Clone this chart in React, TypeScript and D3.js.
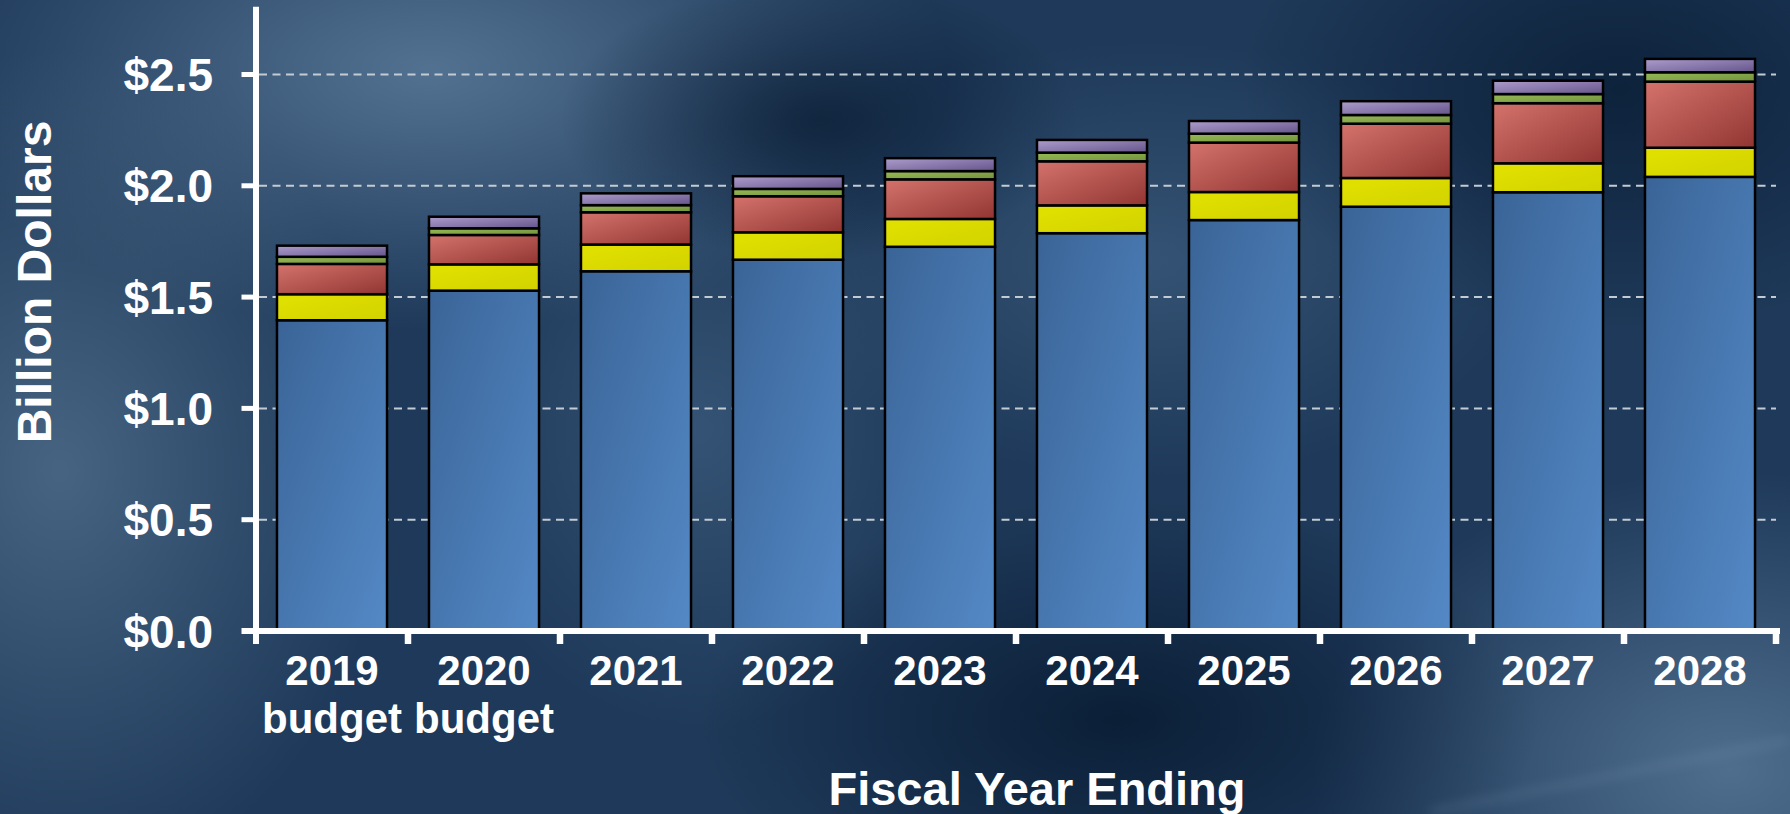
import React, { useEffect, useRef } from 'react'
import * as d3 from 'd3'

// fiscal years on the x axis, second label line for the budget years
const years = ['2019', '2020', '2021', '2022', '2023', '2024', '2025', '2026', '2027', '2028']
const subLabels = ['budget', 'budget', '', '', '', '', '', '', '', '']

// stacked components, billion dollars (bottom to top)
const blueSeries = [1.396, 1.529, 1.616, 1.668, 1.726, 1.787, 1.846, 1.906, 1.971, 2.040]
const yellowSeries = [0.117, 0.118, 0.120, 0.123, 0.125, 0.125, 0.126, 0.129, 0.130, 0.131]
const redSeries = [0.136, 0.132, 0.145, 0.162, 0.178, 0.198, 0.222, 0.244, 0.270, 0.297]
const greenSeries = [0.032, 0.030, 0.032, 0.033, 0.037, 0.039, 0.040, 0.039, 0.041, 0.042]
const purpleSeries = [0.050, 0.052, 0.053, 0.057, 0.058, 0.057, 0.057, 0.062, 0.060, 0.060]

const yTicks = [0, 0.5, 1.0, 1.5, 2.0, 2.5]
const yTickLabels = ['$0.0', '$0.5', '$1.0', '$1.5', '$2.0', '$2.5']

const keys = ['blue', 'yellow', 'red', 'green', 'purple']

const App = () => {
    const ref = useRef<SVGSVGElement>(null)

    useEffect(() => {
        const width = 1790,
            height = 814
        const font = '"Liberation Sans", Arial, sans-serif'

        const svg = d3.select(ref.current)
        svg.selectAll('*').remove()

        const defs = svg.append('defs')

        // background lights and shadows
        const radial = (id: string, color: string, op: number) => {
            const g = defs.append('radialGradient').attr('id', id)
            g.append('stop').attr('offset', '0%').attr('stop-color', color).attr('stop-opacity', op)
            g.append('stop').attr('offset', '100%').attr('stop-color', color).attr('stop-opacity', 0)
        }
        radial('lightA', '#6484a4', 0.75)
        radial('lightB', '#587694', 0.7)
        radial('lightC', '#5f7f9f', 0.75)
        radial('lightD', '#47688a', 0.55)
        radial('darkA', '#06182e', 0.8)
        radial('darkB', '#06182e', 0.7)

        defs.append('filter').attr('id', 'blur')
            .append('feGaussianBlur').attr('stdDeviation', 6)

        // gradients for bar segments (light top-left to dark bottom-right)
        const linear = (id: string, c0: string, c1: string) => {
            const g = defs.append('linearGradient').attr('id', id)
                .attr('x1', '0%').attr('y1', '0%').attr('x2', '100%').attr('y2', '100%')
            g.append('stop').attr('offset', '0%').attr('stop-color', c0)
            g.append('stop').attr('offset', '100%').attr('stop-color', c1)
        }
        linear('blue', '#3a6497', '#5489c6')
        linear('yellow', '#e2e200', '#d2d200')
        linear('red', '#d4736c', '#923532')
        linear('green', '#97b956', '#73933c')
        linear('purple', '#ad9dcd', '#64548a')

        svg.append('rect').attr('width', width).attr('height', height).attr('fill', '#1e3959')
        const blob = (cx: number, cy: number, rx: number, ry: number, id: string) =>
            svg.append('ellipse').attr('cx', cx).attr('cy', cy).attr('rx', rx).attr('ry', ry)
                .attr('fill', `url(#${id})`)
        blob(430, 70, 520, 260, 'lightA')
        blob(60, 470, 330, 420, 'lightB')
        blob(1730, 770, 420, 300, 'lightC')
        blob(1150, 260, 380, 220, 'lightD')
        blob(700, 430, 260, 300, 'lightD')
        blob(1120, 720, 420, 220, 'darkA')
        blob(1620, 90, 380, 240, 'darkB')
        blob(820, 120, 260, 140, 'darkB')

        // faint streak at lower right
        svg.append('line')
            .attr('x1', 1430).attr('y1', 812).attr('x2', 1790).attr('y2', 740)
            .attr('stroke', '#8aa4bf').attr('stroke-width', 3).attr('opacity', 0.45)
            .attr('filter', 'url(#blur)')

        const x = d3.scaleBand()
            .domain(years)
            .range([256, 1776])
            .paddingInner(0.276)
            .paddingOuter(0.138)

        const y = d3.scaleLinear()
            .domain([0, 2.8])
            .range([631, 7.7])

        // dashed gridlines behind the bars
        svg.append('g')
            .selectAll('line')
            .data(yTicks.filter(d => d > 0))
            .join('line')
            .attr('x1', 259)
            .attr('x2', 1776)
            .attr('y1', d => y(d))
            .attr('y2', d => y(d))
            .attr('stroke', '#c3cbd4')
            .attr('stroke-width', 2)
            .attr('stroke-dasharray', '8 5.5')

        const rows = years.map((yr, i) => ({
            year: yr,
            blue: blueSeries[i],
            yellow: yellowSeries[i],
            red: redSeries[i],
            green: greenSeries[i],
            purple: purpleSeries[i],
        }))

        const stacked = d3.stack<any>().keys(keys)(rows)

        stacked.forEach(layer => {
            svg.append('g')
                .selectAll('rect')
                .data(layer)
                .join('rect')
                .attr('x', d => x(d.data.year) as number)
                .attr('width', x.bandwidth())
                .attr('y', d => y(d[1]))
                .attr('height', d => y(d[0]) - y(d[1]))
                .attr('fill', `url(#${layer.key})`)
                .attr('stroke', '#000')
                .attr('stroke-width', 2.5)
        })

        // axes
        const axis = svg.append('g').attr('stroke', '#fff').attr('stroke-linecap', 'butt')
        axis.append('line')
            .attr('x1', 256).attr('x2', 256).attr('y1', 6.7).attr('y2', 644)
            .attr('stroke-width', 6)
        axis.append('line')
            .attr('x1', 241.5).attr('x2', 1780).attr('y1', y(0)).attr('y2', y(0))
            .attr('stroke-width', 6)
        axis.selectAll('.ytick')
            .data(yTicks.filter(d => d > 0))
            .join('line')
            .attr('x1', 241.5).attr('x2', 256)
            .attr('y1', d => y(d)).attr('y2', d => y(d))
            .attr('stroke-width', 5)

        const bounds = years.map(yr => (x(yr) as number) - (x.step() - x.bandwidth()) / 2)
        bounds.push(bounds[bounds.length - 1] + x.step())
        axis.selectAll('.xtick')
            .data(bounds.slice(1))
            .join('line')
            .attr('x1', d => d).attr('x2', d => d)
            .attr('y1', y(0)).attr('y2', 644)
            .attr('stroke-width', 6.5)

        // tick labels
        svg.append('g')
            .selectAll('text')
            .data(yTicks)
            .join('text')
            .attr('x', 213)
            .attr('y', d => y(d))
            .attr('dy', '0.36em')
            .attr('text-anchor', 'end')
            .attr('fill', '#fff')
            .style('font-family', font)
            .style('font-weight', 'bold')
            .style('font-size', '46px')
            .text((d, i) => yTickLabels[i])

        svg.append('g')
            .selectAll('text')
            .data(years)
            .join('text')
            .attr('x', d => (x(d) as number) + x.bandwidth() / 2)
            .attr('y', 685)
            .attr('text-anchor', 'middle')
            .attr('fill', '#fff')
            .style('font-family', font)
            .style('font-weight', 'bold')
            .style('font-size', '42px')
            .text(d => d)

        svg.append('g')
            .selectAll('text')
            .data(years)
            .join('text')
            .attr('x', d => (x(d) as number) + x.bandwidth() / 2)
            .attr('y', 733)
            .attr('text-anchor', 'middle')
            .attr('fill', '#fff')
            .style('font-family', font)
            .style('font-weight', 'bold')
            .style('font-size', '42px')
            .text((d, i) => subLabels[i])

        // axis titles
        svg.append('text')
            .attr('x', 1037)
            .attr('y', 805)
            .attr('text-anchor', 'middle')
            .attr('fill', '#fff')
            .style('font-family', font)
            .style('font-weight', 'bold')
            .style('font-size', '47px')
            .text('Fiscal Year Ending')

        svg.append('text')
            .attr('transform', 'translate(51,282) rotate(-90)')
            .attr('text-anchor', 'middle')
            .attr('fill', '#fff')
            .style('font-family', font)
            .style('font-weight', 'bold')
            .style('font-size', '48px')
            .text('Billion Dollars')
    }, [])

    return (
        <svg
            ref={ref}
            width={1790}
            height={814}
            style={{ position: 'absolute', left: 0, top: 0, display: 'block' }}
        />
    )
}

export default App
